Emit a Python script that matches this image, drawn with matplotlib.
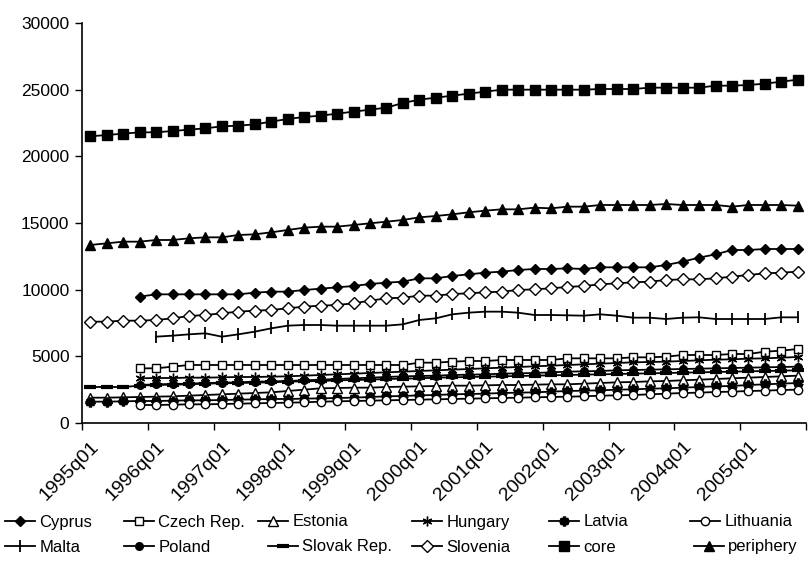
import numpy as np
import matplotlib
matplotlib.use("Agg")
import matplotlib.pyplot as plt

plt.rcParams['font.family'] = ['Liberation Sans', 'DejaVu Sans']

nan = np.nan

# quarterly observations, 1995q1 .. 2005q4
quarters = ['%dq%02d' % (y, q) for y in range(1995, 2006) for q in range(1, 5)]
year_labels = ['%dq01' % y for y in range(1995, 2006)]

cyprus = [nan, nan, nan,
          9475, 9650, 9650, 9650, 9650, 9650, 9650, 9775, 9850, 9850, 9975, 10075,
          10175, 10275, 10425, 10525, 10600, 10850, 10850, 11025, 11150, 11275,
          11350, 11475, 11550, 11550, 11600, 11550, 11675, 11675, 11675, 11675,
          11850, 12100, 12400, 12650, 12975, 12975, 13050, 13050, 13050]
czech = [nan, nan, nan,
         4100, 4100, 4225, 4350, 4350, 4350, 4350, 4350, 4350, 4350, 4350, 4350,
         4350, 4350, 4350, 4350, 4350, 4525, 4525, 4600, 4650, 4650,
         4725, 4725, 4725, 4725, 4850, 4850, 4850, 4850, 4925, 4925,
         4975, 5100, 5100, 5100, 5175, 5175, 5350, 5425, 5550]
estonia = [1900, 1900, 1925,
           1950, 1975, 2000, 2050, 2100, 2150, 2200, 2250, 2300, 2400, 2500, 2600,
           2625, 2650, 2650, 2700, 2725, 2750, 2775, 2800, 2800, 2825,
           2850, 2850, 2875, 2900, 2900, 2950, 3000, 3050, 3075, 3125,
           3150, 3200, 3250, 3300, 3350, 3400, 3450, 3500, 3550]
hungary = [nan, nan, nan,
           3350, 3375, 3375, 3400, 3400, 3425, 3450, 3450, 3475, 3500, 3550, 3600,
           3650, 3700, 3750, 3800, 3850, 3900, 3950, 4000, 4050, 4100,
           4150, 4200, 4250, 4300, 4350, 4400, 4450, 4500, 4550, 4575,
           4600, 4650, 4700, 4750, 4775, 4825, 4850, 4900, 4950]
latvia = [1600, 1600, 1625,
          1650, 1650, 1675, 1700, 1700, 1725, 1750, 1775, 1800, 1800, 1825, 1850,
          1875, 1900, 1950, 2000, 2025, 2075, 2100, 2150, 2175, 2200,
          2250, 2275, 2300, 2350, 2400, 2425, 2450, 2500, 2525, 2575,
          2600, 2650, 2700, 2750, 2775, 2850, 2900, 2950, 3000]
lithuania = [nan, nan, nan,
             1350, 1350, 1375, 1400, 1400, 1425, 1450, 1475, 1500, 1525, 1550, 1600,
             1625, 1650, 1675, 1700, 1725, 1750, 1775, 1800, 1825, 1850,
             1875, 1900, 1925, 1950, 1975, 2000, 2050, 2075, 2100, 2150,
             2200, 2250, 2275, 2325, 2350, 2400, 2425, 2475, 2500]
malta = [nan, nan, nan, nan,
         6475, 6550, 6650, 6725, 6475, 6650, 6850, 7100, 7300, 7350, 7350,
         7300, 7300, 7300, 7300, 7400, 7725, 7850, 8150, 8275, 8350,
         8350, 8275, 8100, 8100, 8075, 8050, 8150, 8050, 7900, 7900,
         7800, 7900, 7925, 7800, 7800, 7800, 7800, 7925, 7925]
poland = [nan, nan, nan,
          2850, 2900, 2925, 2950, 3000, 3025, 3050, 3100, 3125, 3150, 3200, 3250,
          3300, 3350, 3400, 3450, 3500, 3525, 3550, 3600, 3625, 3650,
          3700, 3725, 3750, 3800, 3850, 3875, 3900, 3950, 3975, 4000,
          4025, 4050, 4075, 4100, 4125, 4150, 4175, 4200, 4225]
slovak = [2700, 2700, 2700,
          2800, 2850, 2875, 2900, 2950, 2975, 3000, 3025, 3050, 3100, 3125, 3150,
          3200, 3225, 3250, 3300, 3325, 3350, 3400, 3425, 3450, 3475,
          3500, 3525, 3550, 3575, 3600, 3625, 3650, 3675, 3700, 3725,
          3750, 3775, 3800, 3825, 3850, 3875, 3900, 3925, 3950]
slovenia = [7600, 7600, 7675, 7675, 7725, 7850, 8025, 8100, 8225, 8350,
            8425, 8475, 8600, 8725, 8800, 8850, 8975, 9175, 9350, 9400,
            9550, 9550, 9675, 9725, 9800, 9850, 9975, 10025, 10100, 10200,
            10275, 10400, 10475, 10550, 10600, 10725, 10775, 10775, 10850, 10975,
            11100, 11225, 11275, 11350]
core = [21500, 21600, 21700, 21800, 21800, 21900, 22000, 22100, 22250, 22300,
        22400, 22600, 22800, 22950, 23050, 23200, 23350, 23500, 23650, 24000,
        24250, 24400, 24550, 24700, 24850, 25000, 25000, 25000, 25000, 25000,
        25000, 25050, 25050, 25050, 25150, 25150, 25150, 25150, 25300, 25300,
        25350, 25450, 25600, 25750]
periphery = [13350, 13475, 13600, 13600, 13725, 13725, 13850, 13925, 13925, 14100,
             14150, 14300, 14475, 14650, 14725, 14725, 14850, 14975, 15100, 15225,
             15425, 15525, 15650, 15800, 15925, 16025, 16025, 16150, 16100, 16225,
             16225, 16350, 16350, 16350, 16350, 16425, 16350, 16350, 16350, 16225,
             16350, 16350, 16350, 16300]

# name, values, marker, marker size, face colour, edge width
series = [
    ('Cyprus', cyprus, 'D', 5.0, 'black', 1.0),
    ('Czech Rep.', czech, 's', 6.0, 'white', 1.0),
    ('Estonia', estonia, '^', 6.5, 'white', 1.0),
    ('Hungary', hungary, (6, 2, 0), 7.0, 'black', 1.0),
    ('Latvia', latvia, (6, 2, 0), 7.0, 'black', 2.4),
    ('Lithuania', lithuania, 'o', 6.0, 'white', 1.0),
    ('Malta', malta, '|', 8.0, 'black', 1.3),
    ('Poland', poland, 'o', 5.5, 'black', 1.0),
    ('Slovak Rep.', slovak, '_', 9.0, 'black', 3.0),
    ('Slovenia', slovenia, 'D', 6.5, 'white', 1.0),
    ('core', core, 's', 6.5, 'black', 1.0),
    ('periphery', periphery, '^', 7.5, 'black', 1.0),
]

W, H = 808, 565
fig = plt.figure(figsize=(W / 100, H / 100), dpi=100)
ax = fig.add_axes([82 / W, 1 - 423 / H, 724 / W, 400 / H])

x = np.arange(len(quarters))
lines = {}
for name, vals, mk, ms, fc, mew in series:
    ln, = ax.plot(x, vals, color='black', lw=1.3, marker=mk, markersize=ms,
                  markerfacecolor=fc, markeredgecolor='black', markeredgewidth=mew,
                  label=name, clip_on=False)
    lines[name] = ln

ax.set_xlim(-0.5, len(quarters) - 0.5)
ax.set_ylim(0, 30000)
ax.set_yticks(np.arange(0, 30001, 5000))
ax.tick_params(axis='y', direction='out', length=5, width=1, labelsize=12.5, pad=4)

# tick marks between years, labels on the first quarter of each year
ax.set_xticks(np.arange(-0.5, len(quarters), 4))
ax.set_xticklabels([])
ax.tick_params(axis='x', which='major', direction='out', length=5, width=1)
ax.set_xticks(np.arange(0, len(quarters), 4), minor=True)
ax.set_xticklabels(year_labels, minor=True, rotation=45, ha='right',
                   rotation_mode='anchor', fontsize=14)
ax.tick_params(axis='x', which='minor', length=0, pad=11)

for side in ('top', 'right'):
    ax.spines[side].set_visible(False)
for side in ('left', 'bottom'):
    ax.spines[side].set_linewidth(1.2)

# legend entries placed one by one: (name, left edge px, row centre px)
legend_slots = [
    ('Cyprus', 5, 522), ('Czech Rep.', 124, 522), ('Estonia', 258, 522),
    ('Hungary', 412, 522), ('Latvia', 549, 522), ('Lithuania', 690, 522),
    ('Malta', 5, 547), ('Poland', 124, 547), ('Slovak Rep.', 268, 547),
    ('Slovenia', 412, 547), ('core', 549, 547), ('periphery', 694, 547),
]
for name, px, py in legend_slots:
    fig.legend([lines[name]], [name], loc='center left', frameon=False,
               bbox_to_anchor=(px / W, 1 - py / H), fontsize=12,
               handlelength=1.8, handletextpad=0.25, borderpad=0,
               borderaxespad=0)

fig.savefig('out.png', dpi=100)
